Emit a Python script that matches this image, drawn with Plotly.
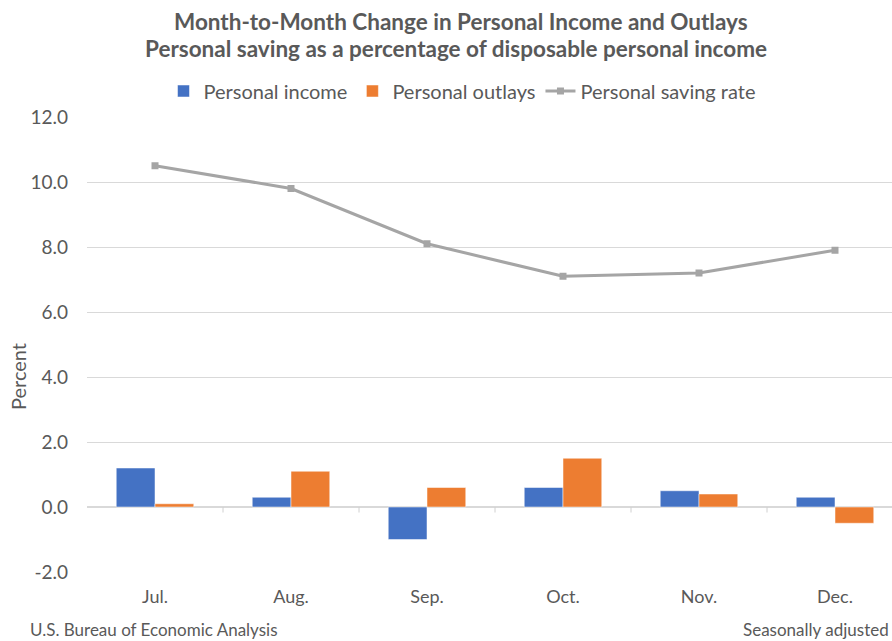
import plotly.graph_objects as go

months = ["Jul.", "Aug.", "Sep.", "Oct.", "Nov.", "Dec."]
personal_income = [1.2, 0.3, -1.0, 0.6, 0.5, 0.3]
personal_outlays = [0.1, 1.1, 0.6, 1.5, 0.4, -0.5]
saving_rate = [10.5, 9.8, 8.1, 7.1, 7.2, 7.9]
y_ticks = [-2, 0, 2, 4, 6, 8, 10, 12]
y_tick_labels = [f"{v:.1f}" for v in y_ticks]

FONT = "Lato"
GRAY_TXT = "#595959"

W, H = 892, 641
L, R, T, B = 87, 0, 117, 69
pw = W - L - R
ph = H - T - B

def px_x(px):
    return (px - L) / pw

def px_y(py):
    return (H - B - py) / ph

fig = go.Figure()
fig.add_trace(go.Bar(x=months, y=personal_income, name="Personal income",
                     marker=dict(color="#4472c4", line=dict(color="#ffffff", width=0.5))))
fig.add_trace(go.Bar(x=months, y=personal_outlays, name="Personal outlays",
                     marker=dict(color="#ed7d31", line=dict(color="#ffffff", width=0.5))))
fig.add_trace(go.Scatter(x=months, y=saving_rate, name="Personal saving rate",
                         mode="lines+markers",
                         line=dict(color="#a5a5a5", width=3),
                         marker=dict(symbol="square", size=7, color="#a5a5a5")))

# category-boundary tick marks on the zero axis line
n = len(months)
for i in range(n - 1):
    fig.add_shape(type="line", xref="x", yref="y",
                  x0=i + 0.5, x1=i + 0.5, y0=0, y1=-0.17,
                  line=dict(color="#d0d0d0", width=1))

ann = []
ann.append(dict(text="<b>Month-to-Month Change in Personal Income and Outlays</b>",
                xref="paper", yref="paper", x=px_x(461), y=px_y(21),
                xanchor="center", yanchor="middle",
                showarrow=False, font=dict(family=FONT, size=22.5, color=GRAY_TXT)))
ann.append(dict(text="<b>Personal saving as a percentage of disposable personal income</b>",
                xref="paper", yref="paper", x=px_x(456), y=px_y(48),
                xanchor="center", yanchor="middle",
                showarrow=False, font=dict(family=FONT, size=22.5, color=GRAY_TXT)))
ann.append(dict(text="Percent", xref="paper", yref="paper", x=px_x(18), y=px_y(377),
                xanchor="center", yanchor="middle",
                textangle=-90, showarrow=False,
                font=dict(family=FONT, size=20, color=GRAY_TXT)))
ann.append(dict(text="U.S. Bureau of Economic Analysis", xref="paper", yref="paper",
                x=px_x(28), y=px_y(629), xanchor="left", yanchor="middle", showarrow=False,
                font=dict(family=FONT, size=17, color=GRAY_TXT)))
ann.append(dict(text="Seasonally adjusted", xref="paper", yref="paper",
                x=px_x(891), y=px_y(629), xanchor="right", yanchor="middle", showarrow=False,
                font=dict(family=FONT, size=17, color=GRAY_TXT)))

fig.update_layout(
    width=W, height=H,
    margin=dict(l=L, r=R, t=T, b=B, pad=0),
    paper_bgcolor="white", plot_bgcolor="white",
    barmode="group", bargap=0.43, bargroupgap=0,
    font=dict(family=FONT, color=GRAY_TXT),
    showlegend=True,
    legend=dict(orientation="h", x=px_x(462), xanchor="center",
                y=px_y(91), yanchor="middle",
                font=dict(family=FONT, size=20, color=GRAY_TXT),
                itemwidth=30, traceorder="normal"),
    annotations=ann,
    xaxis=dict(range=[-0.5, -0.5 + pw / 136.0], showgrid=False, showline=False,
               ticks="", tickfont=dict(family=FONT, size=18, color=GRAY_TXT),
               ticklabelstandoff=12, fixedrange=True),
    yaxis=dict(range=[-2, 12], tickvals=y_ticks, ticktext=y_tick_labels,
               showgrid=True, gridcolor="#d9d9d9", gridwidth=1,
               zeroline=True, zerolinecolor="#d9d9d9", zerolinewidth=1.5,
               showline=False, ticks="",
               tickfont=dict(family=FONT, size=19, color=GRAY_TXT),
               ticklabelstandoff=18, automargin=False),
)

fig.write_html("out.html")
